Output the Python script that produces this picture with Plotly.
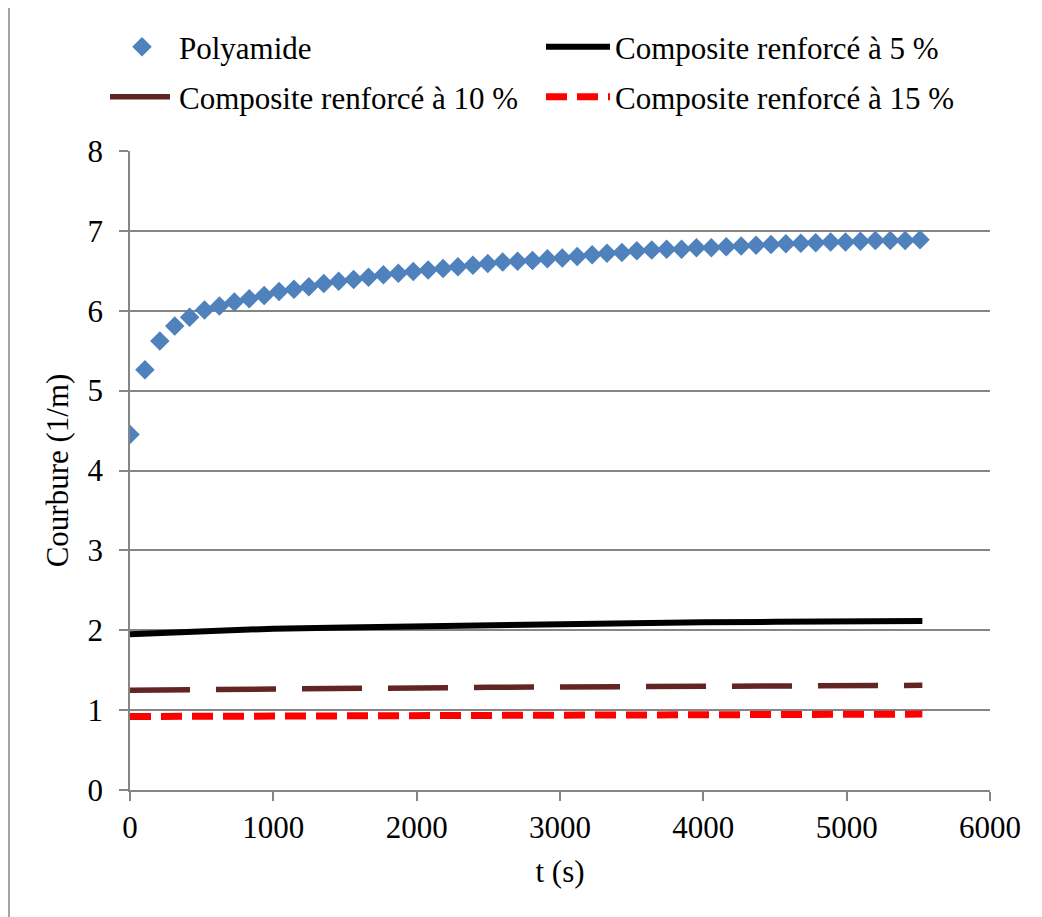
import plotly.graph_objects as go

# ---- data ----
t_s = [i * 104 for i in range(54)]
polyamide = [4.45, 5.26, 5.62, 5.81, 5.92, 6.01, 6.06, 6.11, 6.15, 6.19,
             6.24, 6.27, 6.30, 6.34, 6.37, 6.39, 6.42, 6.45, 6.47, 6.49,
             6.51, 6.53, 6.55, 6.57, 6.59, 6.61, 6.62, 6.63, 6.65, 6.66,
             6.68, 6.70, 6.72, 6.73, 6.75, 6.76, 6.77, 6.77, 6.79, 6.79,
             6.80, 6.81, 6.82, 6.83, 6.84, 6.845, 6.85, 6.86, 6.86, 6.87,
             6.88, 6.88, 6.88, 6.89]

t_comp = [0, 500, 1000, 1500, 2000, 2500, 3000, 3500, 4000, 4500, 5000, 5528]
comp5 = [1.95, 1.99, 2.02, 2.035, 2.05, 2.065, 2.08, 2.09, 2.10, 2.105, 2.11, 2.115]
comp10 = [1.25, 1.26, 1.27, 1.275, 1.28, 1.285, 1.29, 1.295, 1.30, 1.30, 1.305, 1.31]
comp15 = [0.92, 0.925, 0.93, 0.93, 0.935, 0.935, 0.94, 0.94, 0.945, 0.945, 0.948, 0.95]

names = ["Polyamide", "Composite renforcé à 5 %",
         "Composite renforcé à 10 %", "Composite renforcé à 15 %"]

x_ticks = [0, 1000, 2000, 3000, 4000, 5000, 6000]
y_ticks = [0, 1, 2, 3, 4, 5, 6, 7, 8]

FONT = "Liberation Serif"
GRID = "#868686"
FS = 31

# plot area in page pixels (page has an 8px body margin)
PX0, PX1, PY0, PY1 = 130, 990, 151, 790
OFF = 8
W, H = 1042, 917
PW, PH = PX1 - PX0, PY1 - PY0


def px_x(p):
    return (p - PX0) / PW


def px_y(p):
    return (PY1 - p) / PH


fig = go.Figure()
fig.add_trace(go.Scatter(x=t_s, y=polyamide, name=names[0], mode="markers",
                         marker=dict(symbol="diamond", size=15, color="#4F81BD"),
                         legend="legend"))
fig.add_trace(go.Scatter(x=t_comp, y=comp5, name=names[1], mode="lines",
                         line=dict(color="#000000", width=6), legend="legend"))
fig.add_trace(go.Scatter(x=t_comp, y=comp10, name=names[2], mode="lines",
                         line=dict(color="#632523", width=5.5, dash="60px,26px"),
                         legend="legend2"))
fig.add_trace(go.Scatter(x=t_comp, y=comp15, name=names[3], mode="lines",
                         line=dict(color="#FF0000", width=7, dash="21px,10px"),
                         legend="legend2"))

leg_common = dict(orientation="h", xanchor="left", yanchor="middle",
                  entrywidth=357, entrywidthmode="pixels", itemwidth=64,
                  font=dict(family=FONT, size=FS, color="black"),
                  bgcolor="rgba(0,0,0,0)")

fig.update_layout(
    width=W, height=H,
    margin=dict(l=PX0 - OFF, r=W - PW - (PX0 - OFF), t=PY0 - OFF,
                b=H - PH - (PY0 - OFF)),
    paper_bgcolor="white", plot_bgcolor="white",
    font=dict(family=FONT, size=FS, color="black"),
    showlegend=True,
    legend=dict(x=px_x(105), y=px_y(47), **leg_common),
    legend2=dict(x=px_x(105), y=px_y(97), **leg_common),
    xaxis=dict(range=[0, 6000], tickvals=x_ticks, showgrid=False,
               showline=True, linecolor=GRID, linewidth=1.5,
               ticks="outside", ticklen=9, tickcolor=GRID, tickwidth=1.5,
               zeroline=False, tickfont=dict(family=FONT, size=FS),
               title=dict(text="t (s)", standoff=16,
                          font=dict(family=FONT, size=FS))),
    yaxis=dict(range=[0, 8], tickvals=y_ticks, showgrid=True, gridcolor=GRID,
               gridwidth=1.5, showline=True, linecolor=GRID, linewidth=1.5,
               ticks="outside", ticklen=9, tickcolor=GRID, tickwidth=1.5,
               zeroline=False, ticklabelstandoff=10,
               tickfont=dict(family=FONT, size=FS),
               title=dict(text="Courbure (1/m)", standoff=10,
                          font=dict(family=FONT, size=FS))),
)

# outer chart frame (left and top edges visible)
fig.add_shape(type="rect", xref="paper", yref="paper",
              x0=px_x(9), x1=px_x(1100), y0=px_y(1000), y1=px_y(7),
              line=dict(color=GRID, width=1.5), fillcolor="rgba(0,0,0,0)",
              layer="below")

fig.write_html("out.html")
